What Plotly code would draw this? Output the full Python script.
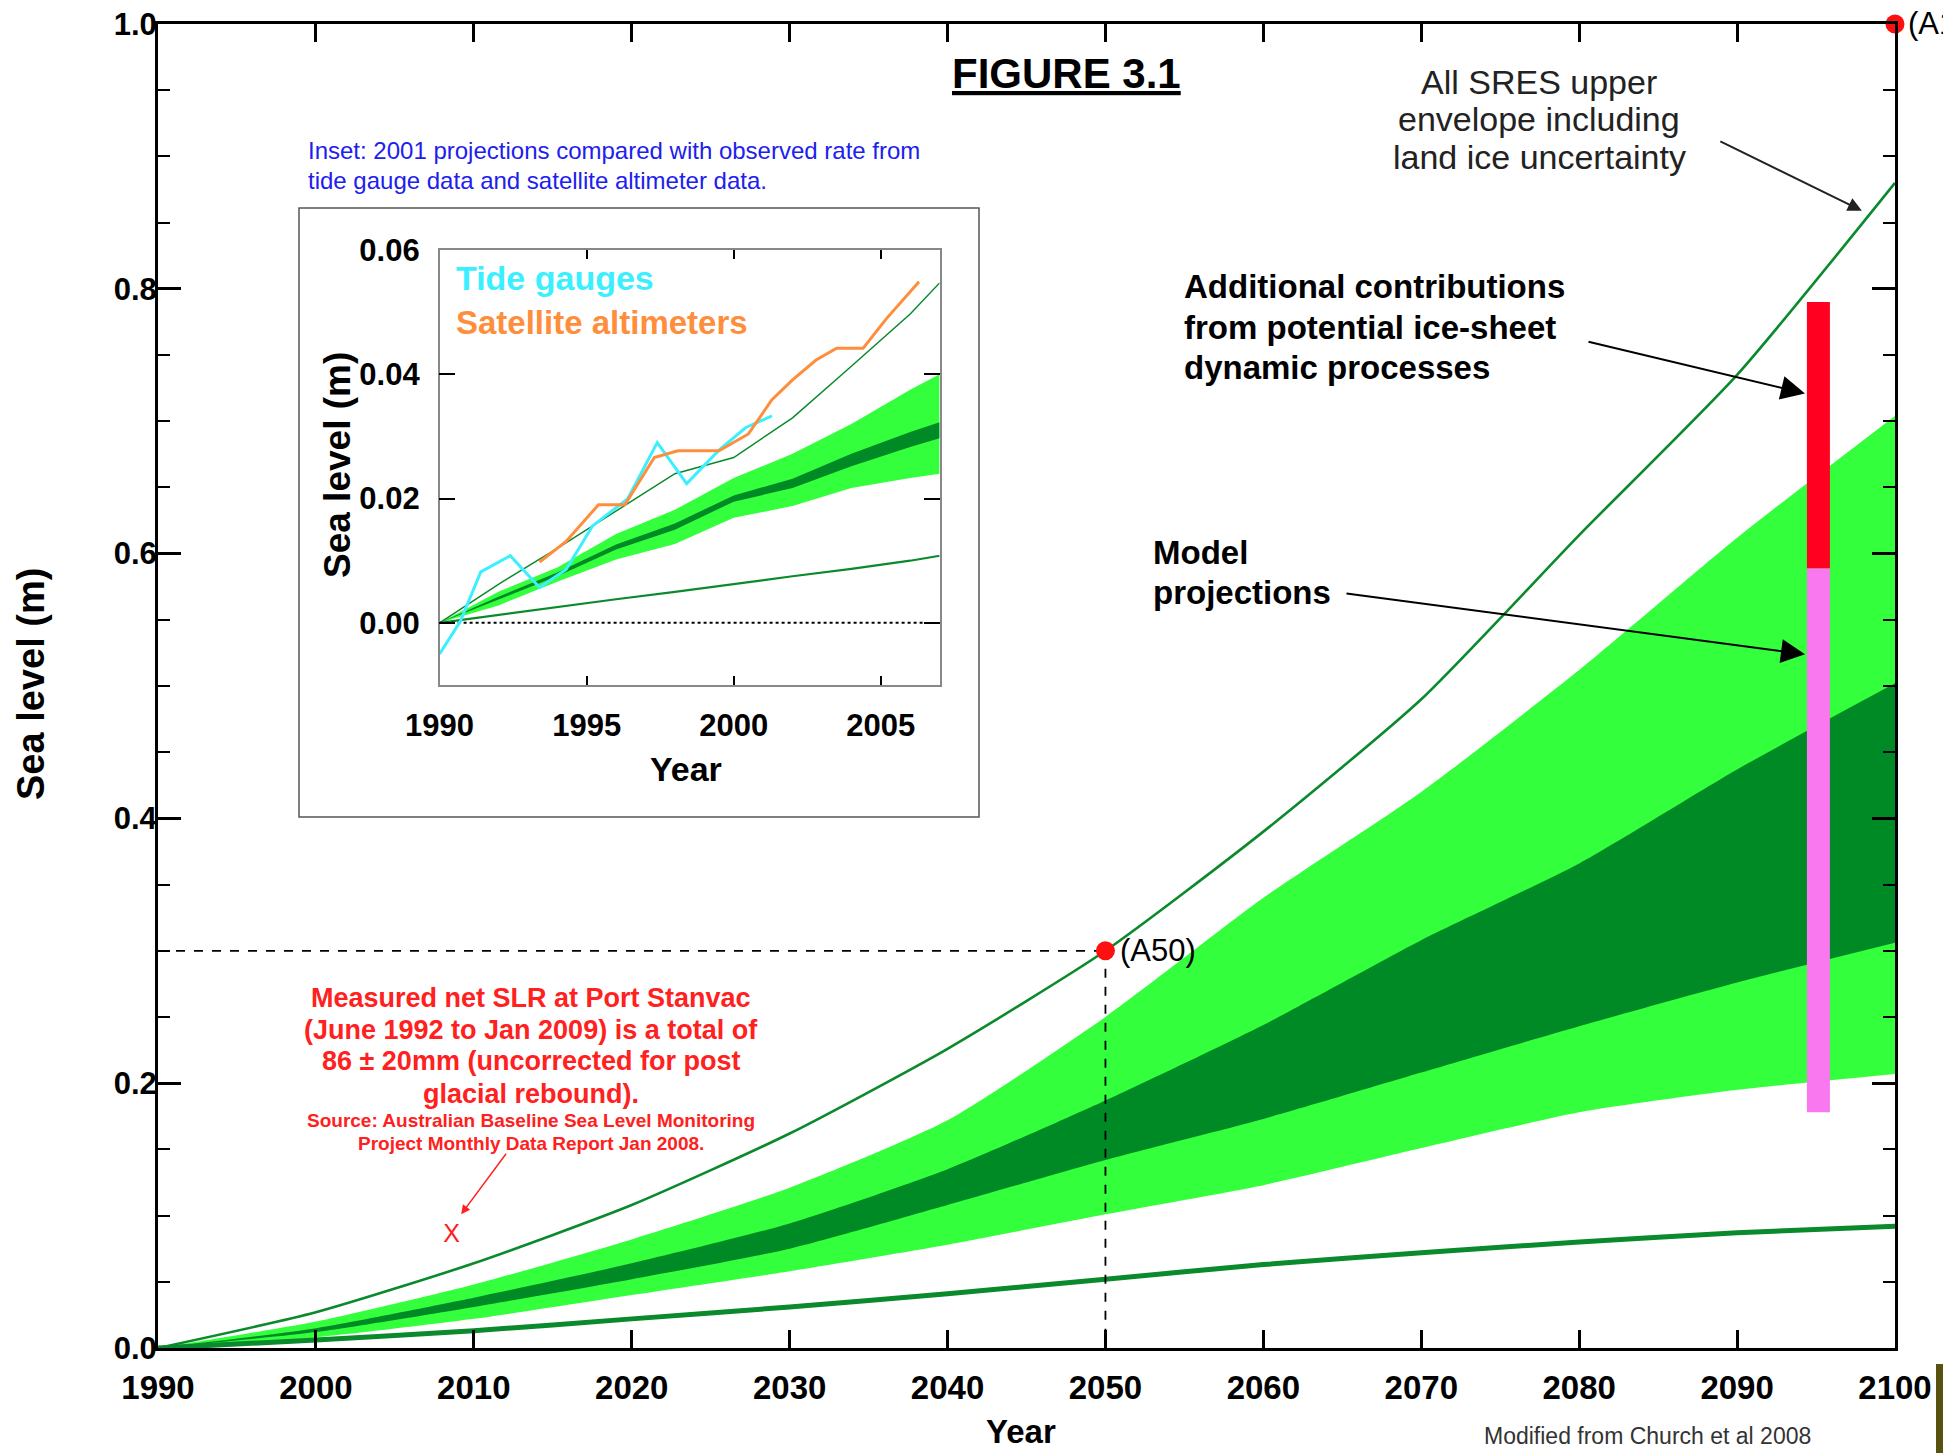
import plotly.graph_objects as go

W, H = 1951, 1453
OFF = 8  # page body margin
FW, FH = W - OFF, H - OFF
FONT = "Liberation Sans, Arial, sans-serif"

# ---------------- main chart data ----------------
YEARS = [1990, 2000, 2010, 2020, 2030, 2040, 2050, 2060, 2070, 2080, 2090, 2100]
UPPER_ENVELOPE = [0, 0.027, 0.064, 0.108, 0.162, 0.226, 0.300, 0.390, 0.490, 0.614, 0.735, 0.880]
LOWER_ENVELOPE = [0, 0.006, 0.013, 0.022, 0.031, 0.041, 0.052, 0.063, 0.072, 0.080, 0.087, 0.092]
OUTER_TOP = [0, 0.020, 0.048, 0.082, 0.121, 0.172, 0.250, 0.340, 0.420, 0.512, 0.612, 0.704]
INNER_TOP = [0, 0.015, 0.038, 0.064, 0.094, 0.135, 0.187, 0.244, 0.308, 0.366, 0.437, 0.502]
INNER_BOTTOM = [0, 0.012, 0.031, 0.052, 0.075, 0.108, 0.142, 0.173, 0.208, 0.243, 0.276, 0.306]
OUTER_BOTTOM = [0, 0.008, 0.022, 0.040, 0.058, 0.078, 0.101, 0.123, 0.151, 0.178, 0.195, 0.207]

A50_YEAR, A50_VALUE = 2050, 0.30
A100_YEAR, A100_VALUE = 2100, 1.00

BAR_YEAR = 2095.15
MODEL_RANGE = [0.178, 0.589]
ICE_RANGE = [0.589, 0.790]

STANVAC_YEAR, STANVAC_VALUE = 2008.6, 0.085

X_TICKS = [1990, 2000, 2010, 2020, 2030, 2040, 2050, 2060, 2070, 2080, 2090, 2100]
Y_TICKS = [0, 0.2, 0.4, 0.6, 0.8, 1.0]
Y_TEXT = ["0.0", "0.2", "0.4", "0.6", "0.8", "1.0"]

# ---------------- inset data ----------------
INSET_YEARS = [1990, 1992, 1994, 1996, 1998, 2000, 2002, 2004, 2006, 2007]
INSET_OUTER_TOP = [0, 0.0050, 0.0089, 0.0143, 0.0182, 0.0233, 0.0272, 0.0320, 0.0375, 0.0400]
INSET_OUTER_BOTTOM = [0, 0.0028, 0.0066, 0.0102, 0.0127, 0.0169, 0.0188, 0.0217, 0.0233, 0.0240]
INSET_INNER_TOP = [0, 0.0042, 0.0081, 0.0126, 0.0160, 0.0205, 0.0232, 0.0272, 0.0307, 0.0323]
INSET_INNER_BOTTOM = [0, 0.0038, 0.0075, 0.0118, 0.0150, 0.0195, 0.0217, 0.0252, 0.0283, 0.0297]
INSET_UPPER = [0, 0.0062, 0.0120, 0.0180, 0.0240, 0.0266, 0.0330, 0.0413, 0.0497, 0.0547]
INSET_LOWER = [0, 0.0013, 0.0026, 0.0038, 0.0050, 0.0063, 0.0075, 0.0087, 0.0100, 0.0108]

TIDE_YEARS = [1990.0, 1990.7, 1991.4, 1992.4, 1993.4, 1994.3, 1995.2, 1996.4, 1997.4, 1998.4, 1999.5, 2000.4, 2001.3]
TIDE_LEVEL = [-0.0050, 0.0002, 0.0082, 0.0108, 0.0057, 0.0086, 0.0156, 0.0200, 0.0290, 0.0224, 0.0278, 0.0314, 0.0333]

SAT_YEARS = [1993.4, 1994.3, 1995.4, 1996.3, 1997.3, 1998.1, 1999.5, 2000.5, 2001.3, 2002.0, 2002.8, 2003.5, 2004.4, 2005.2, 2006.3]
SAT_LEVEL = [0.0098, 0.0131, 0.0190, 0.0190, 0.0266, 0.0277, 0.0277, 0.0304, 0.0359, 0.0391, 0.0423, 0.0442, 0.0442, 0.0490, 0.0549]

ZERO_LINE_YEARS = [1990, 2006.5]
ZERO_LINE_LEVEL = [0, 0]

INSET_X_TICKS = [1990, 1995, 2000, 2005]
INSET_Y_TICKS = [0.0, 0.02, 0.04, 0.06]
INSET_Y_TEXT = ["0.00", "0.02", "0.04", "0.06"]

LIGHT = "#33FF3C"
DARK = "#008A25"
LINE_GREEN = "#0A8A2C"
PINK = "#F978F0"
RED = "#FF0020"


def px(x):
    return (x - OFF) / FW


def py(y):
    return 1 - (y - OFF) / FH


fig = go.Figure()


def main_trace(**kw):
    fig.add_trace(go.Scatter(xaxis="x", yaxis="y", hoverinfo="skip", **kw))


def inset_trace(**kw):
    fig.add_trace(go.Scatter(xaxis="x2", yaxis="y2", hoverinfo="skip", **kw))


SMOOTH = dict(shape="spline", smoothing=0.6)

# ---- main projection bands ----
main_trace(x=YEARS, y=OUTER_BOTTOM, mode="lines", line=dict(width=0, color=LIGHT, **SMOOTH))
main_trace(x=YEARS, y=OUTER_TOP, mode="lines", line=dict(width=0, color=LIGHT, **SMOOTH),
           fill="tonexty", fillcolor=LIGHT)
main_trace(x=YEARS, y=INNER_BOTTOM, mode="lines", line=dict(width=0, color=DARK, **SMOOTH))
main_trace(x=YEARS, y=INNER_TOP, mode="lines", line=dict(width=0, color=DARK, **SMOOTH),
           fill="tonexty", fillcolor=DARK)
main_trace(x=YEARS, y=LOWER_ENVELOPE, mode="lines", line=dict(width=5, color=LINE_GREEN, **SMOOTH))
main_trace(x=YEARS, y=UPPER_ENVELOPE, mode="lines", line=dict(width=2.6, color=LINE_GREEN, **SMOOTH))

# ---- vertical bar: model projections + ice-sheet contributions ----
main_trace(x=[BAR_YEAR, BAR_YEAR], y=MODEL_RANGE, mode="lines", line=dict(width=23, color=PINK))
main_trace(x=[BAR_YEAR, BAR_YEAR], y=ICE_RANGE, mode="lines", line=dict(width=23, color=RED))

# ---- dashed guide lines at A50 ----
main_trace(x=[YEARS[0], A50_YEAR], y=[A50_VALUE, A50_VALUE], mode="lines",
           line=dict(color="black", width=1.8, dash="dash"))
main_trace(x=[A50_YEAR, A50_YEAR], y=[A50_VALUE, 0], mode="lines",
           line=dict(color="black", width=1.8, dash="dash"))

# ---- red points ----
main_trace(x=[A50_YEAR, A100_YEAR], y=[A50_VALUE, A100_VALUE], mode="markers",
           marker=dict(color="#FF1010", size=19), cliponaxis=False)

# ---- Port Stanvac X ----
main_trace(x=[STANVAC_YEAR], y=[STANVAC_VALUE], mode="text", text=["X"],
           textfont=dict(family=FONT, size=25, color="#FF2020"))

# ---------------- inset traces ----------------
inset_trace(x=INSET_YEARS, y=INSET_OUTER_BOTTOM, mode="lines", line=dict(width=0, color=LIGHT))
inset_trace(x=INSET_YEARS, y=INSET_OUTER_TOP, mode="lines", line=dict(width=0, color=LIGHT),
            fill="tonexty", fillcolor=LIGHT)
inset_trace(x=INSET_YEARS, y=INSET_INNER_BOTTOM, mode="lines", line=dict(width=0, color=DARK))
inset_trace(x=INSET_YEARS, y=INSET_INNER_TOP, mode="lines", line=dict(width=0, color=DARK),
            fill="tonexty", fillcolor=DARK)
inset_trace(x=INSET_YEARS, y=INSET_LOWER, mode="lines", line=dict(width=2.2, color=LINE_GREEN))
inset_trace(x=INSET_YEARS, y=INSET_UPPER, mode="lines", line=dict(width=1.5, color=LINE_GREEN))
inset_trace(x=ZERO_LINE_YEARS, y=ZERO_LINE_LEVEL, mode="lines", line=dict(color="black", width=2, dash="dot"))
inset_trace(x=TIDE_YEARS, y=TIDE_LEVEL, mode="lines", line=dict(width=3, color="#3CEFFF"))
inset_trace(x=SAT_YEARS, y=SAT_LEVEL, mode="lines", line=dict(width=3, color="#FF8E3C"))

tick_font = dict(family=FONT, size=33, color="black", weight="bold")
ytick_font = dict(family=FONT, size=31, color="black", weight="bold")
inset_tick_font = dict(family=FONT, size=31, color="black", weight="bold")

fig.update_layout(
    width=FW, height=FH,
    margin=dict(l=0, r=0, t=0, b=0, pad=0),
    paper_bgcolor="white", plot_bgcolor="white",
    showlegend=False,
    xaxis=dict(domain=[px(158), px(1895)], range=[1990, 2100], tickvals=X_TICKS,
               ticks="inside", ticklen=18, tickwidth=2.5, tickcolor="black",
               showline=True, linewidth=3, linecolor="black", mirror="ticks",
               showgrid=False, zeroline=False, tickfont=tick_font, ticklabelstandoff=8,
               ticklabeloverflow="allow", automargin=False, anchor="y"),
    yaxis=dict(domain=[py(1348), py(24)], range=[0, 1.0], tickvals=Y_TICKS, ticktext=Y_TEXT,
               ticks="inside", ticklen=23, tickwidth=2.5, tickcolor="black",
               minor=dict(dtick=0.05, tick0=0, ticks="inside", ticklen=12, tickwidth=2, tickcolor="black"),
               showline=True, linewidth=3, linecolor="black", mirror="ticks",
               showgrid=False, zeroline=False, tickfont=ytick_font, ticklabelstandoff=-8,
               ticklabeloverflow="allow", automargin=False, anchor="x"),
    xaxis2=dict(domain=[px(439.6), px(939.6)], range=[1990, 2007], tickvals=INSET_X_TICKS,
                ticks="inside", ticklen=9, tickwidth=2, tickcolor="black",
                showline=True, linewidth=1.5, linecolor="#888888", mirror="ticks",
                showgrid=False, zeroline=False, tickfont=inset_tick_font, ticklabelstandoff=12,
                automargin=False, anchor="y2"),
    yaxis2=dict(domain=[py(685), py(250)], range=[-0.01, 0.06], tickvals=INSET_Y_TICKS, ticktext=INSET_Y_TEXT,
                ticks="inside", ticklen=16, tickwidth=2, tickcolor="black",
                showline=True, linewidth=1.5, linecolor="#888888", mirror="ticks",
                showgrid=False, zeroline=False, tickfont=inset_tick_font, ticklabelstandoff=12,
                automargin=False, anchor="x2"),
)

# inset frame
fig.add_shape(type="rect", xref="paper", yref="paper", x0=px(299), x1=px(979), y0=py(817), y1=py(208),
              line=dict(color="#555555", width=1.5), fillcolor="white", layer="below")
# slide corner
fig.add_shape(type="rect", xref="paper", yref="paper", x0=px(1936), x1=1, y0=0, y1=py(1364),
              line=dict(width=0), fillcolor="#575210", layer="above")


def note(text, x, y, size, color="black", bold=False, xanchor="center", angle=0):
    fig.add_annotation(text=text, xref="paper", yref="paper", x=px(x), y=py(y),
                       xanchor=xanchor, yanchor="middle", showarrow=False, textangle=angle,
                       font=dict(family=FONT, size=size, color=color, weight="bold" if bold else "normal"))


def lines(texts, x, ys, size, color="black", bold=False, xanchor="center"):
    for t, yy in zip(texts, ys):
        note(t, x, yy, size, color, bold, xanchor)


# axis titles
note("Year", 1021, 1431, 33, bold=True)
note("Sea level (m)", 31, 684, 38, bold=True, angle=-90)
note("Year", 686, 769, 34, bold=True)
note("Sea level (m)", 338, 465, 37, bold=True, angle=-90)

# figure label
note("<u>FIGURE 3.1</u>", 1066, 73, 42, bold=True)

# inset caption
lines(["Inset: 2001 projections compared with observed rate from",
       "tide gauge data and satellite altimeter data."], 306, [151, 180], 24, color="#2020EE", xanchor="left")

# inset legend
note("Tide gauges", 454, 278, 34, color="#3CEFFF", bold=True, xanchor="left")
note("Satellite altimeters", 454, 322, 33, color="#FF8E3C", bold=True, xanchor="left")

# upper envelope label
lines(["All SRES upper", "envelope including", "land ice uncertainty"], 1539, [82, 119, 157], 34, color="#222222")

# ice sheet / model labels
lines(["Additional contributions", "from potential ice-sheet", "dynamic processes"], 1182, [287, 327, 367], 33,
      bold=True, xanchor="left")
lines(["Model", "projections"], 1151, [552, 592], 33, bold=True, xanchor="left")

# red note
lines(["Measured net SLR at Port Stanvac", "(June 1992 to Jan 2009) is a total of",
       "86 \u00b1 20mm (uncorrected for post", "glacial rebound)."], 531, [998, 1030, 1061, 1094], 27,
      color="#FF2020", bold=True)
lines(["Source: Australian Baseline Sea Level Monitoring", "Project Monthly Data Report Jan 2008."],
      531, [1120, 1143], 19, color="#FF2020", bold=True)

# footer
note("Modified from Church et al 2008", 1647, 1436, 23, color="#333333")

# point labels
fig.add_annotation(text="(A50)", x=A50_YEAR, y=A50_VALUE, xref="x", yref="y", xanchor="left", yanchor="middle",
                   xshift=13, showarrow=False, font=dict(family=FONT, size=31, color="black"))
fig.add_annotation(text="(A100)", x=A100_YEAR, y=A100_VALUE, xref="x", yref="y", xanchor="left", yanchor="middle",
                   xshift=11, showarrow=False, font=dict(family=FONT, size=31, color="black"))

# arrows
fig.add_annotation(text="", x=2097.9, y=0.859, xref="x", yref="y", ax=-143, ay=-70, showarrow=True,
                   arrowhead=2, arrowsize=1.4, arrowwidth=2, arrowcolor="#222222")
fig.add_annotation(text="", x=2094.3, y=0.721, xref="x", yref="y", ax=-218, ay=-52, showarrow=True,
                   arrowhead=2, arrowsize=2.4, arrowwidth=2, arrowcolor="black")
fig.add_annotation(text="", x=2094.3, y=0.524, xref="x", yref="y", ax=-460, ay=-61, showarrow=True,
                   arrowhead=2, arrowsize=2.4, arrowwidth=2, arrowcolor="black")
fig.add_annotation(text="", x=2009.2, y=0.101, xref="x", yref="y", ax=46, ay=-62, showarrow=True,
                   arrowhead=2, arrowsize=1.2, arrowwidth=1.5, arrowcolor="#FF2020")

fig.write_html("out.html")
